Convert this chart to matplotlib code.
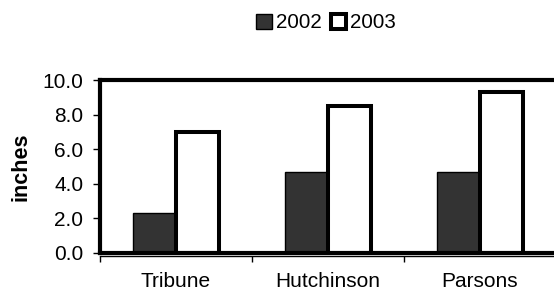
import numpy as np
import matplotlib.pyplot as plt

plt.rcParams['font.family'] = ['Liberation Sans', 'DejaVu Sans']

sites = ['Tribune', 'Hutchinson', 'Parsons']
y2002 = [2.3, 4.7, 4.7]
y2003 = [7.0, 8.5, 9.3]

fig = plt.figure(figsize=(5.54, 2.94), dpi=100)
ax = fig.add_axes([100/554, 41/294, 456/554, 173/294])

x = np.arange(len(sites))
w = 0.28
ax.bar(x - w/2, y2002, w, color='#333333', edgecolor='black', linewidth=1, label='2002')
ax.bar(x + w/2, y2003, w, color='white', edgecolor='black', linewidth=2.9, label='2003')

ax.set_xlim(-0.5, 2.5)
ax.set_ylim(0, 10)
ax.set_yticks(np.arange(0, 10.1, 2))
ax.set_yticklabels(['%.1f' % v for v in np.arange(0, 10.1, 2)])

# thick plot-area border, thin axis line just below
for s in ['left', 'top', 'right']:
    ax.spines[s].set_linewidth(3)
ax.spines['bottom'].set_linewidth(1)
ax.spines['bottom'].set_position(('outward', 2.5))
ax.axhline(0, color='black', lw=3, clip_on=False, zorder=3)

ax.set_xticks(x)
ax.set_xticklabels(sites)
ax.set_xticks([-0.5, 0.5, 1.5], minor=True)
ax.tick_params(axis='x', which='major', length=0, pad=11, labelsize=15)
ax.tick_params(axis='x', which='minor', length=4, width=1, direction='out')
ax.tick_params(axis='y', length=5, width=1, pad=7, labelsize=15)

ax.set_ylabel('inches', fontsize=15.5, fontweight='bold', labelpad=8)

fig.legend(loc='center', bbox_to_anchor=(326/554, 1 - 23/294), ncol=2, frameon=False,
           fontsize=14.8, handlelength=0.75, handleheight=0.75, handletextpad=0.2,
           columnspacing=0.45, borderpad=0)

fig.savefig('out.png', dpi=100)
